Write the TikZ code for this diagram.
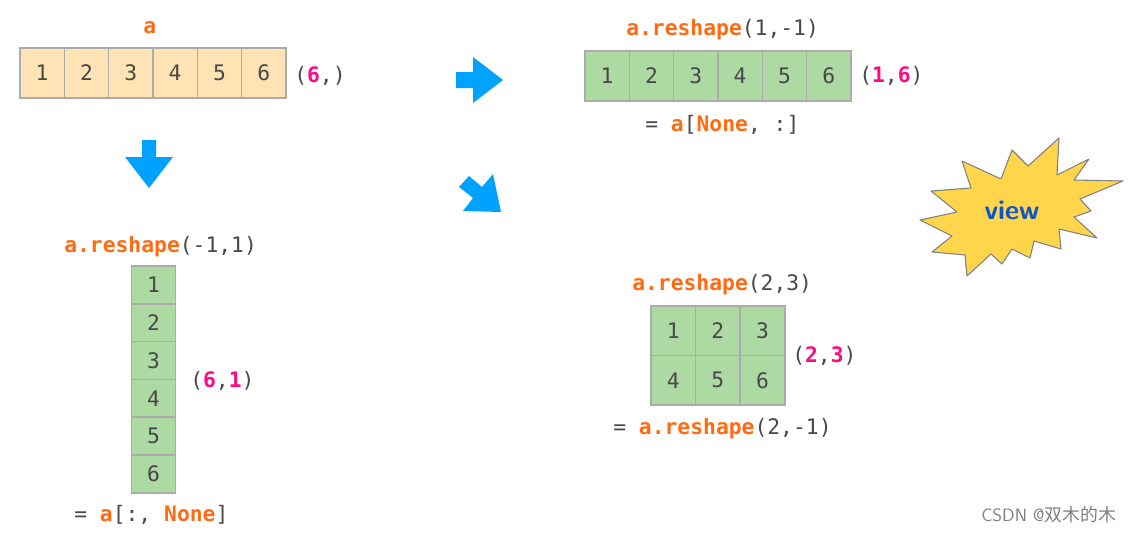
\documentclass[tikz,border=0pt]{standalone}
\usepackage{fontspec}
\setmonofont{DejaVu Sans Mono}
\newfontfamily\cjkfont{Noto Sans CJK SC}
\definecolor{darktext}{HTML}{484848}
\definecolor{codeorange}{HTML}{FF6A13}
\definecolor{dimpink}{HTML}{FF0A82}
\definecolor{tanfill}{HTML}{FFE3B5}
\definecolor{greenfill}{HTML}{ADD9A3}
\definecolor{cellline}{HTML}{ABABAB}
\definecolor{arrowblue}{HTML}{00A2FF}
\definecolor{staryellow}{HTML}{FFD54C}
\definecolor{viewblue}{HTML}{0F55C8}
\newcommand{\orng}[1]{\textcolor{codeorange}{\textbf{#1}}}
\newcommand{\pnk}[1]{\textcolor{dimpink}{\textbf{#1}}}
\tikzset{
  tancell/.style={draw=cellline,line width=1.1pt,fill=tanfill,inner sep=0pt,text=darktext,
    minimum width=33.25pt,minimum height=37.5pt},
  greencell/.style={tancell,fill=greenfill},
  tallcell/.style={greencell,minimum height=28.4pt},
  gridcell/.style={greencell,minimum width=33.4pt,minimum height=37.1pt},
  codetext/.style={anchor=base west,inner sep=0pt,text=darktext},
  blockarrow/.style={fill=arrowblue}
}
\begin{document}
\begin{tikzpicture}[x=0.75pt,y=-0.75pt,font=\ttfamily\fontsize{16pt}{18pt}\selectfont]

\useasboundingbox (0,0) rectangle (1133,533);

\def\w{44.33}

%====================================================
% Row 0 : a
%====================================================
\begin{scope}[shift={(20,48)}]
\foreach \i in {1,...,6}
  \node[tancell] (a\i) at ({(\i-0.5)*\w},25) {\i};
\end{scope}

\node[codetext] (alabel) at (143,33) {\orng{a}};
\node[codetext] (ashape) at (294,82) {(\pnk{6},)};

%====================================================
% Row 1 : reshape(1,-1)
%====================================================
\begin{scope}[shift={(585,51)}]
\foreach \i in {1,...,6}
  \node[greencell] (r\i) at ({(\i-0.5)*\w},25) {\i};
\end{scope}

\node[codetext] (rlabel) at (626,35) {\orng{a.reshape}(1,-1)};
\node[codetext] (rshape) at (859,82) {(\pnk{1},\pnk{6})};
\node[codetext] (rnone) at (645,131) {= \orng{a}[\orng{None}, :]};

%====================================================
% Column : reshape(-1,1)
%====================================================
\begin{scope}[shift={(131,266)}]
\foreach \i in {1,...,6}
  \node[tallcell] (c\i) at (22.5,{(\i-0.5)*37.8}) {\i};
\end{scope}

\node[codetext] (clabel) at (64,252) {\orng{a.reshape}(-1,1)};
\node[codetext] (cshape) at (190,387) {(\pnk{6},\pnk{1})};
\node[codetext] (cnone) at (74,521) {= \orng{a}[:, \orng{None}]};

%====================================================
% Grid : reshape(2,3)
%====================================================
\begin{scope}[shift={(651,306)}]
\foreach \i in {1,2,3}
  \node[gridcell] (g\i) at ({(\i-0.5)*44.6},24.75) {\i};
\foreach \i/\n in {1/4,2/5,3/6}
  \node[gridcell] (g\n) at ({(\i-0.5)*44.6},74.25) {\n};
\end{scope}

\node[codetext] (glabel) at (632,290) {\orng{a.reshape}(2,3)};
\node[codetext] (gshape) at (792,362) {(\pnk{2},\pnk{3})};
\node[codetext] (gother) at (613,434) {= \orng{a.reshape}(2,-1)};

%Arrows
% a -> reshape(1,-1)
\fill[blockarrow] (456,72)--(473,72)--(473,57)--(503,80)--(473,103)--(473,88)--(456,88)--cycle;

% a -> reshape(-1,1)
\fill[blockarrow] (142,140)--(156,140)--(156,157)--(173,157)--(149,188)--(125,157)--(142,157)--cycle;

% a -> reshape(2,3)
\fill[blockarrow] (459,187)--(469,176)--(482,187)--(493,174)--(501,212)--(463,211)--(473,198)--cycle;

% Star
\draw[draw=gray,line width=0.8pt,fill=staryellow,line join=round]
(1059,138)--(1057,175)--(1089,159)--(1074,180)--(1123,181)--(1080,199)
--(1091,211)--(1074,217)--(1097,238)--(1059,229)--(1061,249)--(1034,241)
--(1030,258)--(1012,249)--(1002,264)--(991,254)--(967,276)--(965,255)
--(932,252)--(952,236)--(920,220)--(957,212)--(931,191)--(971,188)
--(962,161)--(1001,179)--(1012,150)--(1028,166)--cycle;
\node[inner sep=0pt,font=\sffamily\bfseries\fontsize{20.5pt}{22pt}\selectfont,text=viewblue] (view) at (1012,210) {view};

% Watermark
\node[anchor=base west,inner sep=0pt,text=gray,font=\sffamily\fontsize{13.4pt}{15pt}\selectfont] (mark) at (981,521) {CSDN @{\cjkfont 双木的木}};

\end{tikzpicture}
\end{document}
